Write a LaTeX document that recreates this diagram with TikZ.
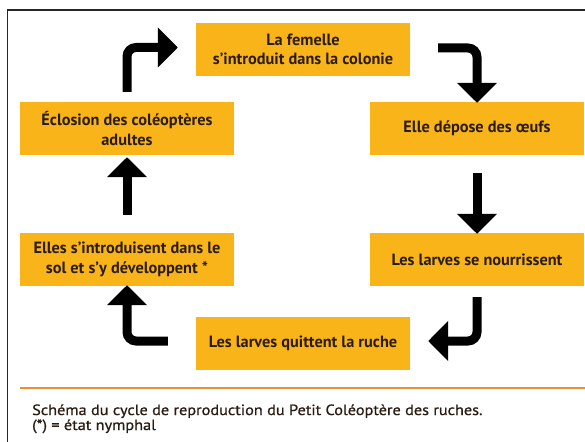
\documentclass[tikz,border=0pt]{standalone}
\usepackage{fontspec}
\setmainfont{PT Sans}
\newfontfamily\capfont[FakeStretch=1.1,FakeBold=0.8]{PT Sans}
\usetikzlibrary{arrows.meta,calc}
\definecolor{boxorange}{HTML}{F9B41A}
\definecolor{linorange}{HTML}{F08C34}
\definecolor{txtdark}{HTML}{2A1C12}
\begin{document}
\begin{tikzpicture}[x=1pt,y=-1pt,
  stagebox/.style={fill=boxorange, minimum width=214pt, minimum height=53pt, inner sep=0pt,
    align=center, text=txtdark, font=\fontsize{16.3}{19.5}\selectfont\bfseries},
  bigarrow/.style={line width=9pt, -{Triangle[length=20pt,width=39pt]}, rounded corners=9pt, draw=black},
  captxt/.style={anchor=base west, inner sep=0pt, text=txtdark, font=\capfont\fontsize{14.8}{12}\selectfont}]
\useasboundingbox (0,0) rectangle (585,441);
\clip (0,0) rectangle (585,441);
\fill[white] (0,0) rectangle (585,441);
\draw[line width=1.6pt, black!85] (7.5,10) rectangle (620,480);
% stages
\node[stagebox] (femelle) at (303,49.5) {La femelle\\s'introduit dans la colonie};
\node[stagebox] (depose) at (477,128.5) {Elle dépose des œufs};
\node[stagebox] (eclo) at (127,128.5) {Éclosion des coléoptères\\adultes};
\node[stagebox] (sol) at (127,259.5) {Elles s'introduisent dans le\\sol et s'y développent *};
\node[stagebox] (nourr) at (477,259.5) {Les larves se nourrissent};
\node[stagebox] (quitte) at (303,343.5) {Les larves quittent la ruche};
% arrows
\draw[bigarrow] ($(eclo.north)+(0,-10)$) |- ($(femelle.west)+(-18,-2)$);
\draw[bigarrow] ($(femelle.east)+(28,-1.5)$) -| ($(depose.north)+(0,1)$);
\draw[bigarrow] ($(depose.south)+(0,18)$) -- ($(nourr.north)+(0,1)$);
\draw[bigarrow] ($(nourr.south)+(0,11)$) |- ($(quitte.east)+(18,-2.5)$);
\draw[bigarrow] ($(quitte.west)+(-28,-2.5)$) -| ($(sol.south)+(0,-1)$);
\draw[bigarrow] ($(sol.north)+(0,-18)$) -- ($(eclo.south)+(0,2)$);
% separator and caption
\coordinate (sepL) at (20,387.5);
\coordinate (sepR) at (585,387.5);
\draw[linorange, line width=2pt] (sepL) -- (sepR);
\node[captxt] (cap1) at (32,415) {Schéma du cycle de reproduction du Petit Coléoptère des ruches.};
\node[captxt] (cap2) at (32,430) {(*) = état nymphal};
\end{tikzpicture}
\end{document}
